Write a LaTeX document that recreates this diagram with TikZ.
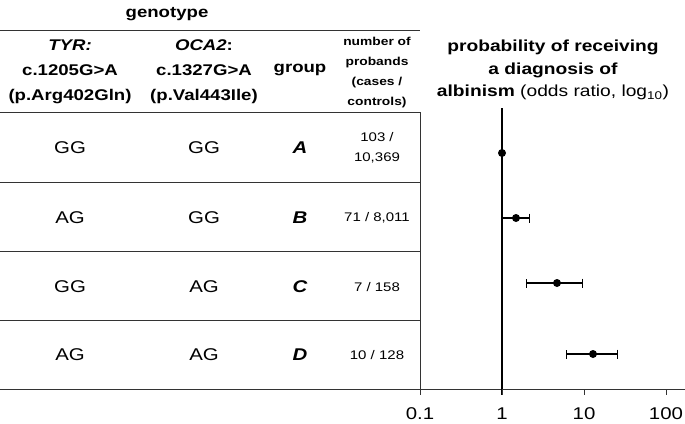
\documentclass[tikz,border=0pt]{standalone}
\usepackage{fontspec}
\setmainfont[FakeStretch=1.2]{Liberation Sans}
\usetikzlibrary{arrows.meta}
\begin{document}
\begin{tikzpicture}[x=1pt,y=-1pt,
  hd/.style={font=\bfseries\fontsize{15.5}{25}\selectfont,align=center},
  ph/.style={font=\bfseries\fontsize{16}{22.5}\selectfont,align=center},
  sm/.style={font=\bfseries\fontsize{11.5}{20}\selectfont,align=center},
  cell/.style={font=\fontsize{17}{20}\selectfont},
  np/.style={font=\fontsize{12.5}{20}\selectfont,align=center},
  grp/.style={font=\bfseries\itshape\fontsize{17}{20}\selectfont},
  rule/.style={line width=0.8pt,black!80},
  dot/.style={circle,fill=black,inner sep=0pt,minimum size=8pt},
  ci/.style={line width=1.4pt,{Bar[width=9pt]}-{Bar[width=9pt]}}]
\useasboundingbox (0,0) rectangle (685,423);
\node[hd] (g) at (167,14) {genotype};
\draw[rule] (0,30) -- (420,30);
\node[hd] (h1) at (70,72) {\textit{TYR:}\\c.1205G>A\\(p.Arg402Gln)};
\node[hd] (h2) at (204,72) {\textit{OCA2}:\\c.1327G>A\\(p.Val443Ile)};
\node[hd] (h3) at (300,70) {group};
\node[sm] (h4) at (377,73) {number of\\probands\\(cases /\\controls)};
\node[ph] (h5) at (553,70) {probability of receiving\\a diagnosis of\\albinism {\mdseries(odds ratio, log\textsubscript{10})}};
\draw[rule] (0,112) -- (420,112);
\foreach \y in {182,251,320} \draw[rule] (0,\y) -- (420,\y);
\draw[rule] (0,389) -- (685,389);
\draw[rule] (420,112) -- (420,389);
\foreach \a/\b/\g/\n/\y in {GG/GG/A/{103 /\\10,369}/148, AG/GG/B/{71 / 8,011}/218, GG/AG/C/{7 / 158}/287, AG/AG/D/{10 / 128}/355}{
  \node[cell] at (70,\y) {\a};
  \node[cell] at (204,\y) {\b};
  \node[grp] at (300,\y) {\g};
  \node[np] at (377,\y) {\n};
}
\draw[line width=2.2pt] (502,108) -- (502,395);
\node[dot] (pa) at (502,153) {};
\draw[ci] (502,218) -- (530,218); \node[dot] (pb) at (516,218) {};
\draw[ci] (526,283) -- (583,283); \node[dot] (pc) at (557,283) {};
\draw[ci] (566,354) -- (618,354); \node[dot] (pd) at (593,354) {};
\foreach \v/\x in {0.1/420,1/502,10/584,100/666} {
  \draw[rule] (\x,389) -- (\x,395);
  \node[cell] at (\x,414) {\v};
}
\end{tikzpicture}
\end{document}
